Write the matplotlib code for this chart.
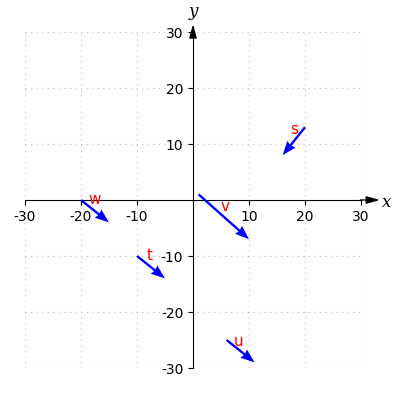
import matplotlib
matplotlib.use("Agg")
import matplotlib.pyplot as plt

names = ["s", "t", "u", "v", "w"]
tail_x = [20, -10, 6, 1, -20]
tail_y = [13, -10, -25, 1, 0]
vec_x = [-4, 5, 5, 9, 5]
vec_y = [-5, -4, -4, -8, -4]
label_x = [18, -7.7, 8.2, 5.7, -17.5]
label_y = [12.6, -10, -25.2, -1.1, 0]
ticks = [-30, -20, -10, 10, 20, 30]


def main():
    plt.rcParams["axes.unicode_minus"] = False
    fig = plt.figure(figsize=(4, 4), dpi=100)
    ax = fig.add_axes([0.0625, 0.08, 0.84, 0.84])
    ax.set_xlim(-30, 30)
    ax.set_ylim(-30, 30)

    ax.spines["left"].set_position("zero")
    ax.spines["bottom"].set_position("zero")
    ax.spines["right"].set_visible(False)
    ax.spines["top"].set_visible(False)
    ax.set_xticks(ticks)
    ax.set_yticks(ticks)
    ax.tick_params(labelsize=10)
    ax.grid(True, color="#bbbbbb", linestyle=(0, (1, 4)), linewidth=0.8)

    # arrow heads on the axes
    ax.annotate("", xy=(33.4, 0), xytext=(29.9, 0),
                arrowprops=dict(arrowstyle="-|>,head_width=0.25,head_length=0.9",
                                color="k", lw=1,
                                mutation_scale=9, shrinkA=0, shrinkB=0),
                annotation_clip=False)
    ax.annotate("", xy=(0, 31.4), xytext=(0, 29.9),
                arrowprops=dict(arrowstyle="-|>,head_width=0.25,head_length=0.9",
                                color="k", lw=1,
                                mutation_scale=9, shrinkA=0, shrinkB=0),
                annotation_clip=False)
    ax.text(34.6, -0.4, "x", fontsize=12, family="serif", style="italic",
            ha="center", va="center", clip_on=False)
    ax.text(0, 33.6, "y", fontsize=12, family="serif", style="italic",
            ha="center", va="center", clip_on=False)

    ax.quiver(tail_x, tail_y, vec_x, vec_y, angles="xy", scale_units="xy",
              scale=1, color="blue", width=0.007, headwidth=4.5,
              headlength=6, headaxislength=5.5, zorder=3)
    for n, lx, ly in zip(names, label_x, label_y):
        ax.text(lx, ly, n, color="red", fontsize=11, ha="center", va="center")

    fig.savefig("out.png", dpi=100)


if __name__ == "__main__":
    main()
